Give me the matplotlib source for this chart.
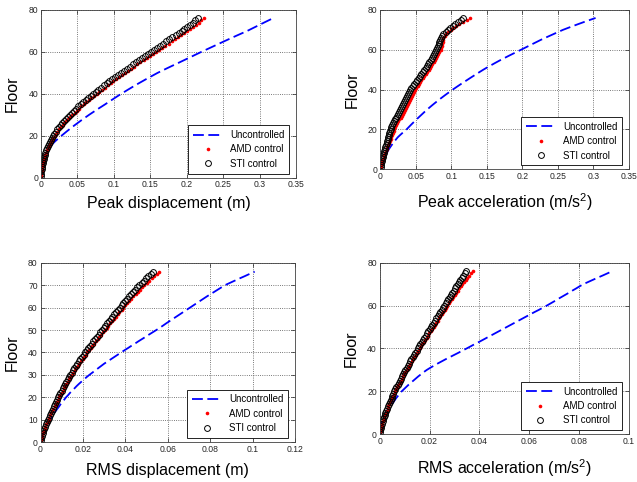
import matplotlib
matplotlib.use('Agg')
import matplotlib.pyplot as plt
import numpy as np

plt.rcParams['font.family'] = ['Liberation Sans', 'DejaVu Sans']
plt.rcParams['mathtext.fontset'] = 'custom'
plt.rcParams['mathtext.rm'] = 'Liberation Sans'
plt.rcParams['mathtext.it'] = 'Liberation Sans'

# %% data (floors 1..76)
floors = np.arange(1, 77)

peak_disp_unc = [0.0002, 0.0005, 0.0008, 0.0011, 0.0015, 0.0020, 0.0026, 0.0033, 0.0041, 0.0050,
                 0.0062, 0.0076, 0.0092, 0.0110, 0.0130, 0.0155, 0.0183, 0.0214, 0.0247, 0.0280,
                 0.0315, 0.0350, 0.0386, 0.0423, 0.0460, 0.0499, 0.0538, 0.0578, 0.0619, 0.0660,
                 0.0703, 0.0746, 0.0790, 0.0835, 0.0880, 0.0923, 0.0967, 0.1011, 0.1055, 0.1100,
                 0.1147, 0.1194, 0.1242, 0.1291, 0.1340, 0.1391, 0.1442, 0.1494, 0.1547, 0.1600,
                 0.1659, 0.1718, 0.1778, 0.1839, 0.1900, 0.1960, 0.2020, 0.2080, 0.2140, 0.2200,
                 0.2262, 0.2324, 0.2386, 0.2448, 0.2510, 0.2573, 0.2636, 0.2700, 0.2765, 0.2830,
                 0.2888, 0.2946, 0.3004, 0.3062, 0.3121, 0.3180]
peak_disp_amd = [0.0003, 0.0006, 0.0009, 0.0013, 0.0017, 0.0023, 0.0029, 0.0035, 0.0043, 0.0051,
                 0.0061, 0.0071, 0.0082, 0.0094, 0.0107, 0.0121, 0.0135, 0.0151, 0.0167, 0.0185,
                 0.0206, 0.0226, 0.0248, 0.0271, 0.0296, 0.0321, 0.0348, 0.0374, 0.0402, 0.0430,
                 0.0460, 0.0490, 0.0522, 0.0554, 0.0588, 0.0622, 0.0657, 0.0692, 0.0729, 0.0765,
                 0.0802, 0.0839, 0.0877, 0.0916, 0.0955, 0.0994, 0.1034, 0.1074, 0.1114, 0.1155,
                 0.1196, 0.1238, 0.1279, 0.1321, 0.1364, 0.1407, 0.1450, 0.1492, 0.1535, 0.1578,
                 0.1621, 0.1664, 0.1707, 0.1750, 0.1793, 0.1836, 0.1879, 0.1922, 0.1965, 0.2008,
                 0.2048, 0.2087, 0.2126, 0.2165, 0.2202, 0.2240]
peak_disp_sti = [0.0001, 0.0003, 0.0006, 0.0009, 0.0012, 0.0017, 0.0023, 0.0028, 0.0035, 0.0042,
                 0.0051, 0.0060, 0.0070, 0.0081, 0.0093, 0.0106, 0.0119, 0.0134, 0.0149, 0.0165,
                 0.0184, 0.0203, 0.0223, 0.0245, 0.0268, 0.0292, 0.0317, 0.0342, 0.0368, 0.0395,
                 0.0423, 0.0452, 0.0482, 0.0513, 0.0545, 0.0578, 0.0611, 0.0645, 0.0680, 0.0715,
                 0.0751, 0.0787, 0.0824, 0.0862, 0.0900, 0.0938, 0.0977, 0.1016, 0.1055, 0.1095,
                 0.1135, 0.1176, 0.1217, 0.1258, 0.1300, 0.1342, 0.1384, 0.1426, 0.1468, 0.1510,
                 0.1552, 0.1594, 0.1636, 0.1678, 0.1720, 0.1762, 0.1804, 0.1846, 0.1888, 0.1930,
                 0.1968, 0.2006, 0.2043, 0.2080, 0.2116, 0.2152]

peak_acc_unc = [0.0008, 0.0017, 0.0027, 0.0038, 0.0050, 0.0063, 0.0076, 0.0090, 0.0105, 0.0120,
                0.0139, 0.0158, 0.0179, 0.0200, 0.0222, 0.0245, 0.0274, 0.0305, 0.0337, 0.0370,
                0.0397, 0.0424, 0.0452, 0.0481, 0.0510, 0.0539, 0.0569, 0.0599, 0.0629, 0.0660,
                0.0693, 0.0726, 0.0760, 0.0795, 0.0830, 0.0867, 0.0904, 0.0942, 0.0981, 0.1020,
                0.1061, 0.1102, 0.1144, 0.1187, 0.1230, 0.1273, 0.1317, 0.1361, 0.1405, 0.1450,
                0.1498, 0.1547, 0.1597, 0.1648, 0.1700, 0.1755, 0.1810, 0.1866, 0.1923, 0.1980,
                0.2036, 0.2092, 0.2148, 0.2204, 0.2260, 0.2321, 0.2383, 0.2445, 0.2507, 0.2570,
                0.2643, 0.2717, 0.2793, 0.2870, 0.2950, 0.3030]
peak_acc_amd = [0.0007, 0.0015, 0.0023, 0.0031, 0.0040, 0.0050, 0.0060, 0.0070, 0.0080, 0.0090,
                0.0101, 0.0112, 0.0123, 0.0134, 0.0145, 0.0156, 0.0167, 0.0178, 0.0189, 0.0200,
                0.0214, 0.0228, 0.0242, 0.0256, 0.0270, 0.0286, 0.0302, 0.0318, 0.0334, 0.0350,
                0.0364, 0.0378, 0.0392, 0.0406, 0.0420, 0.0434, 0.0448, 0.0462, 0.0476, 0.0490,
                0.0508, 0.0526, 0.0544, 0.0562, 0.0580, 0.0600, 0.0620, 0.0640, 0.0660, 0.0680,
                0.0698, 0.0716, 0.0734, 0.0752, 0.0770, 0.0786, 0.0802, 0.0818, 0.0834, 0.0850,
                0.0857, 0.0863, 0.0870, 0.0877, 0.0883, 0.0890, 0.0910, 0.0930, 0.0960, 0.0990,
                0.1030, 0.1070, 0.1110, 0.1163, 0.1217, 0.1270]
peak_acc_sti = [0.0005, 0.0011, 0.0017, 0.0024, 0.0030, 0.0037, 0.0044, 0.0051, 0.0058, 0.0065,
                0.0073, 0.0081, 0.0089, 0.0097, 0.0105, 0.0113, 0.0121, 0.0129, 0.0137, 0.0145,
                0.0158, 0.0171, 0.0184, 0.0197, 0.0210, 0.0224, 0.0238, 0.0252, 0.0266, 0.0280,
                0.0294, 0.0308, 0.0322, 0.0336, 0.0350, 0.0364, 0.0378, 0.0392, 0.0406, 0.0420,
                0.0440, 0.0460, 0.0480, 0.0500, 0.0520, 0.0540, 0.0560, 0.0580, 0.0600, 0.0620,
                0.0638, 0.0656, 0.0674, 0.0692, 0.0710, 0.0726, 0.0742, 0.0758, 0.0774, 0.0790,
                0.0800, 0.0810, 0.0820, 0.0830, 0.0840, 0.0850, 0.0870, 0.0890, 0.0920, 0.0950,
                0.0983, 0.1017, 0.1050, 0.1090, 0.1130, 0.1170]

rms_disp_unc = [0.0003, 0.0006, 0.0010, 0.0014, 0.0018, 0.0023, 0.0028, 0.0033, 0.0039, 0.0045,
                0.0051, 0.0058, 0.0065, 0.0072, 0.0080, 0.0088, 0.0095, 0.0103, 0.0112, 0.0120,
                0.0130, 0.0139, 0.0149, 0.0160, 0.0170, 0.0181, 0.0193, 0.0205, 0.0217, 0.0230,
                0.0244, 0.0258, 0.0272, 0.0286, 0.0300, 0.0316, 0.0332, 0.0348, 0.0364, 0.0380,
                0.0396, 0.0413, 0.0429, 0.0446, 0.0462, 0.0479, 0.0496, 0.0512, 0.0529, 0.0546,
                0.0562, 0.0578, 0.0593, 0.0609, 0.0625, 0.0641, 0.0657, 0.0673, 0.0689, 0.0705,
                0.0721, 0.0737, 0.0753, 0.0769, 0.0785, 0.0802, 0.0819, 0.0836, 0.0853, 0.0870,
                0.0893, 0.0916, 0.0939, 0.0963, 0.0986, 0.1010]
rms_disp_amd = [0.0003, 0.0005, 0.0008, 0.0011, 0.0015, 0.0019, 0.0023, 0.0028, 0.0033, 0.0038,
                0.0042, 0.0046, 0.0051, 0.0056, 0.0061, 0.0066, 0.0071, 0.0077, 0.0083, 0.0088,
                0.0093, 0.0099, 0.0105, 0.0110, 0.0116, 0.0122, 0.0129, 0.0135, 0.0141, 0.0147,
                0.0155, 0.0161, 0.0168, 0.0176, 0.0183, 0.0190, 0.0198, 0.0205, 0.0213, 0.0220,
                0.0228, 0.0237, 0.0244, 0.0252, 0.0261, 0.0269, 0.0277, 0.0287, 0.0295, 0.0303,
                0.0312, 0.0320, 0.0329, 0.0338, 0.0346, 0.0354, 0.0364, 0.0372, 0.0382, 0.0390,
                0.0400, 0.0409, 0.0419, 0.0428, 0.0438, 0.0449, 0.0458, 0.0469, 0.0478, 0.0489,
                0.0501, 0.0512, 0.0524, 0.0535, 0.0547, 0.0560]
rms_disp_sti = [0.0002, 0.0004, 0.0007, 0.0010, 0.0013, 0.0017, 0.0021, 0.0026, 0.0030, 0.0035,
                0.0039, 0.0043, 0.0048, 0.0052, 0.0057, 0.0062, 0.0067, 0.0072, 0.0078, 0.0083,
                0.0088, 0.0093, 0.0099, 0.0104, 0.0110, 0.0116, 0.0122, 0.0128, 0.0134, 0.0140,
                0.0147, 0.0153, 0.0160, 0.0167, 0.0174, 0.0181, 0.0188, 0.0195, 0.0203, 0.0210,
                0.0218, 0.0226, 0.0233, 0.0241, 0.0249, 0.0257, 0.0265, 0.0274, 0.0282, 0.0290,
                0.0298, 0.0306, 0.0315, 0.0323, 0.0331, 0.0339, 0.0348, 0.0356, 0.0365, 0.0373,
                0.0382, 0.0391, 0.0400, 0.0409, 0.0418, 0.0428, 0.0437, 0.0447, 0.0456, 0.0466,
                0.0477, 0.0487, 0.0498, 0.0508, 0.0519, 0.0530]

rms_acc_unc = [0.0001, 0.0002, 0.0004, 0.0006, 0.0008, 0.0011, 0.0014, 0.0017, 0.0021, 0.0025,
               0.0030, 0.0036, 0.0042, 0.0048, 0.0055, 0.0061, 0.0067, 0.0074, 0.0081, 0.0088,
               0.0097, 0.0106, 0.0115, 0.0125, 0.0135, 0.0145, 0.0155, 0.0166, 0.0177, 0.0189,
               0.0203, 0.0218, 0.0233, 0.0249, 0.0265, 0.0282, 0.0299, 0.0316, 0.0332, 0.0349,
               0.0365, 0.0381, 0.0398, 0.0414, 0.0430, 0.0446, 0.0462, 0.0478, 0.0494, 0.0510,
               0.0526, 0.0542, 0.0558, 0.0574, 0.0590, 0.0606, 0.0622, 0.0639, 0.0655, 0.0671,
               0.0686, 0.0701, 0.0715, 0.0730, 0.0745, 0.0760, 0.0774, 0.0789, 0.0803, 0.0818,
               0.0837, 0.0856, 0.0875, 0.0895, 0.0914, 0.0933]
rms_acc_amd = [0.0002, 0.0004, 0.0006, 0.0008, 0.0010, 0.0013, 0.0016, 0.0019, 0.0022, 0.0025,
               0.0028, 0.0032, 0.0035, 0.0039, 0.0042, 0.0047, 0.0051, 0.0054, 0.0058, 0.0062,
               0.0066, 0.0070, 0.0075, 0.0080, 0.0084, 0.0089, 0.0094, 0.0099, 0.0103, 0.0108,
               0.0113, 0.0118, 0.0123, 0.0128, 0.0133, 0.0138, 0.0144, 0.0150, 0.0155, 0.0160,
               0.0165, 0.0171, 0.0177, 0.0182, 0.0188, 0.0194, 0.0199, 0.0205, 0.0211, 0.0216,
               0.0222, 0.0228, 0.0233, 0.0239, 0.0244, 0.0250, 0.0256, 0.0261, 0.0267, 0.0272,
               0.0278, 0.0284, 0.0290, 0.0296, 0.0302, 0.0308, 0.0313, 0.0319, 0.0325, 0.0331,
               0.0338, 0.0345, 0.0352, 0.0359, 0.0366, 0.0373]
rms_acc_sti = [0.0001, 0.0003, 0.0005, 0.0007, 0.0009, 0.0012, 0.0015, 0.0017, 0.0020, 0.0023,
               0.0026, 0.0030, 0.0033, 0.0037, 0.0040, 0.0044, 0.0048, 0.0051, 0.0055, 0.0059,
               0.0063, 0.0067, 0.0072, 0.0076, 0.0080, 0.0085, 0.0089, 0.0094, 0.0098, 0.0103,
               0.0108, 0.0112, 0.0117, 0.0122, 0.0127, 0.0132, 0.0138, 0.0143, 0.0148, 0.0153,
               0.0158, 0.0163, 0.0169, 0.0174, 0.0179, 0.0185, 0.0190, 0.0195, 0.0201, 0.0206,
               0.0211, 0.0217, 0.0222, 0.0228, 0.0233, 0.0238, 0.0244, 0.0249, 0.0255, 0.0260,
               0.0265, 0.0271, 0.0276, 0.0282, 0.0287, 0.0292, 0.0297, 0.0303, 0.0308, 0.0313,
               0.0319, 0.0324, 0.0330, 0.0336, 0.0341, 0.0347]

xt_peak = ['0', '0.05', '0.1', '0.15', '0.2', '0.25', '0.3', '0.35']
xt_rms_disp = ['0', '0.02', '0.04', '0.06', '0.08', '0.1', '0.12']
xt_rms_acc = ['0', '0.02', '0.04', '0.06', '0.08', '0.1']
yt_20 = ['0', '20', '40', '60', '80']
yt_10 = ['0', '10', '20', '30', '40', '50', '60', '70', '80']

legend_labels = ['Uncontrolled', 'AMD control', 'STI control']

# %% plotting
fig = plt.figure(figsize=(6.37, 4.82), dpi=100)

panels = [
    # rect, unc, amd, sti, xlabel, xticklabels, yticklabels, xlabel pad
    ([0.0644, 0.6313, 0.4003, 0.3480], peak_disp_unc, peak_disp_amd, peak_disp_sti,
     'Peak displacement (m)', xt_peak, yt_20, 5),
    ([0.5969, 0.6488, 0.3905, 0.3305], peak_acc_unc, peak_acc_amd, peak_acc_sti,
     'Peak acceleration (m/s$^2$)', xt_peak, yt_20, 7.5),
    ([0.0636, 0.0824, 0.3995, 0.3726], rms_disp_unc, rms_disp_amd, rms_disp_sti,
     'RMS displacement (m)', xt_rms_disp, yt_10, 6.5),
    ([0.5961, 0.0990, 0.3909, 0.3560], rms_acc_unc, rms_acc_amd, rms_acc_sti,
     'RMS acceleration (m/s$^2$)', xt_rms_acc, yt_20, 8),
]

for rect, unc, amd, sti, xlab, xtl, ytl, xpad in panels:
    ax = fig.add_axes(rect)
    ax.plot(unc, floors, color='#0000ff', lw=1.3, linestyle=(0, (6, 2.5)), label=legend_labels[0])
    ax.plot(amd, floors, linestyle='none', marker='o', ms=2.6, color='#ff0000', mec='none',
            label=legend_labels[1])
    ax.plot(sti, floors, linestyle='none', marker='o', ms=4.2, mfc='none', mec='black', mew=0.7,
            label=legend_labels[2])

    xt = [float(t) for t in xtl]
    yt = [float(t) for t in ytl]
    ax.set_xlim(xt[0], xt[-1])
    ax.set_ylim(yt[0], yt[-1])
    ax.set_xticks(xt)
    ax.set_xticklabels(xtl)
    ax.set_yticks(yt)
    ax.set_yticklabels(ytl)
    ax.tick_params(direction='in', top=True, right=True, length=3, width=0.5,
                   labelsize=6.2, pad=2, colors='0.15')
    for s in ax.spines.values():
        s.set_linewidth(0.6)
        s.set_color('0.25')
    ax.grid(True, linestyle=':', color='0.3', lw=0.6)
    ax.set_axisbelow(True)

    ax.set_xlabel(xlab, fontsize=11.5, labelpad=xpad)
    ax.set_ylabel('Floor', fontsize=11.5, labelpad=6)

    leg = ax.legend(loc='lower right', bbox_to_anchor=(0.973, 0.024), borderaxespad=0,
                    fontsize=7, fancybox=False, framealpha=1, edgecolor='black',
                    handlelength=3.0, numpoints=1, labelspacing=0.45, borderpad=0.5)
    leg.get_frame().set_linewidth(0.6)

fig.savefig('out.png', dpi=100)
